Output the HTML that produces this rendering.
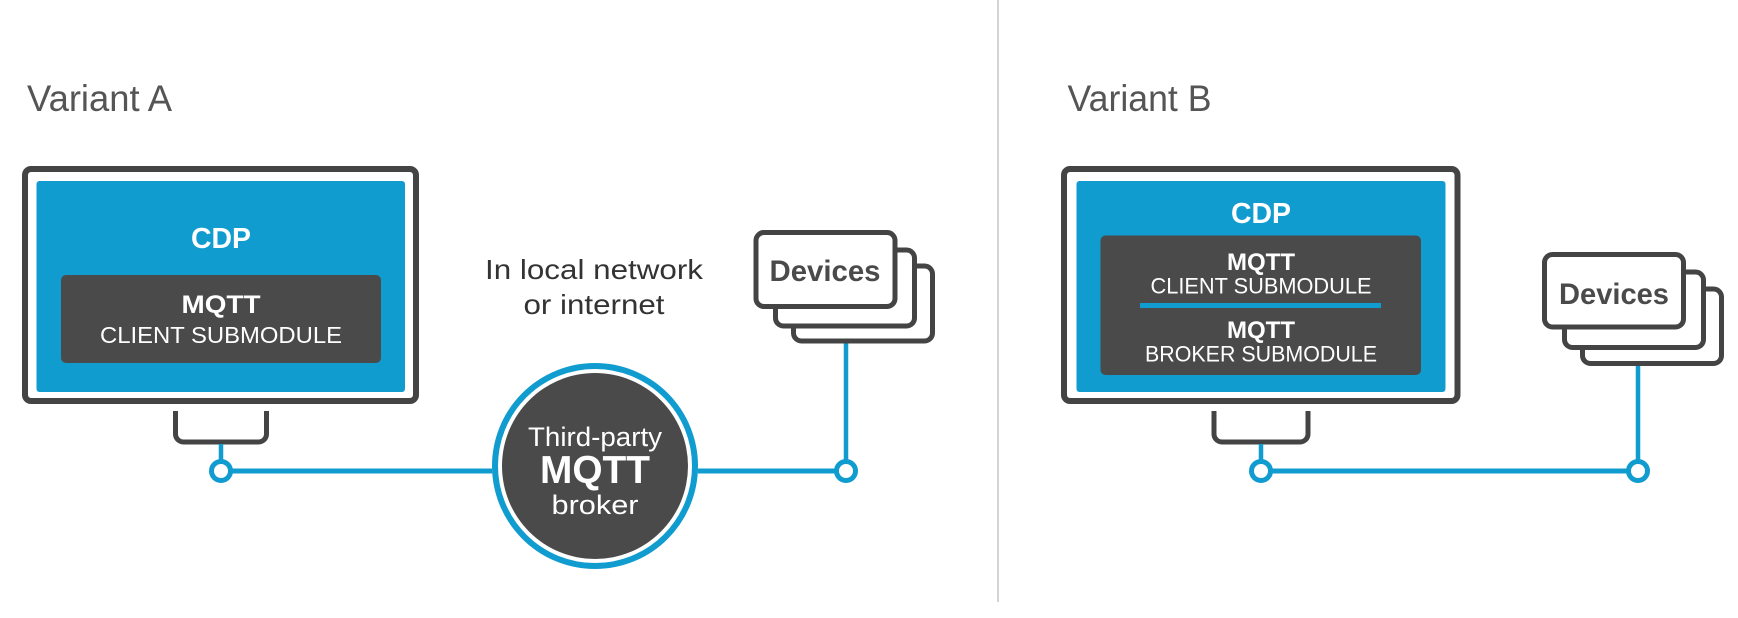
<!DOCTYPE html>
<html><head><meta charset="utf-8"><style>
html,body{margin:0;padding:0;background:#fff;}
svg{display:block;}
text{font-family:"Liberation Sans",sans-serif;}
</style></head><body>
<svg width="1738" height="618" viewBox="0 0 1738 618" xmlns="http://www.w3.org/2000/svg">
<line x1="998" y1="0" x2="998" y2="602" stroke="#d4d4d4" stroke-width="2"/>

<!-- Variant A -->
<text x="27" y="111" font-size="37" fill="#555" font-weight="300" textLength="145" lengthAdjust="spacingAndGlyphs">Variant A</text>
<rect x="25" y="169" width="391" height="232" rx="6" fill="#fff" stroke="#444" stroke-width="6"/>
<rect x="36.5" y="181" width="368.5" height="211" rx="3" fill="#119cd0"/>
<text x="221" y="248" font-size="29" font-weight="bold" fill="#fff" text-anchor="middle" textLength="60" lengthAdjust="spacingAndGlyphs">CDP</text>
<rect x="61" y="275" width="320" height="88" rx="5" fill="#4a4a4a"/>
<text x="221" y="313" font-size="25" font-weight="bold" fill="#fff" text-anchor="middle" textLength="79" lengthAdjust="spacingAndGlyphs">MQTT</text>
<text x="221" y="343" font-size="23" fill="#fff" text-anchor="middle" textLength="242" lengthAdjust="spacingAndGlyphs">CLIENT SUBMODULE</text>
<path d="M175.5 411 V434 a8 8 0 0 0 8 8 H258.5 a8 8 0 0 0 8 -8 V411" fill="none" stroke="#444" stroke-width="5"/>

<line x1="221" y1="444" x2="221" y2="471" stroke="#119cd0" stroke-width="4.5"/>
<line x1="221" y1="471" x2="846" y2="471" stroke="#119cd0" stroke-width="5"/>
<line x1="846" y1="343" x2="846" y2="471" stroke="#119cd0" stroke-width="4.5"/>
<circle cx="221" cy="471" r="9.5" fill="#fff" stroke="#119cd0" stroke-width="5"/>
<circle cx="846" cy="471" r="9.5" fill="#fff" stroke="#119cd0" stroke-width="5"/>

<circle cx="595" cy="466" r="103" fill="#fff"/>
<circle cx="595" cy="466" r="100" fill="#fff" stroke="#119cd0" stroke-width="6"/>
<circle cx="595" cy="466" r="93" fill="#4a4a4a"/>
<text x="595" y="446" font-size="27" font-weight="300" fill="#fff" text-anchor="middle" textLength="134" lengthAdjust="spacingAndGlyphs">Third-party</text>
<text x="595" y="483" font-size="39" font-weight="bold" fill="#fff" text-anchor="middle" textLength="110" lengthAdjust="spacingAndGlyphs">MQTT</text>
<text x="595" y="514" font-size="27" fill="#fff" text-anchor="middle" textLength="87" lengthAdjust="spacingAndGlyphs">broker</text>

<text x="594" y="279" font-size="28" fill="#333" text-anchor="middle" textLength="218" lengthAdjust="spacingAndGlyphs">In local network</text>
<text x="594" y="314" font-size="28" fill="#333" text-anchor="middle" textLength="141" lengthAdjust="spacingAndGlyphs">or internet</text>

<rect x="793.5" y="266" width="139" height="75" rx="8" fill="#fff" stroke="#444" stroke-width="5"/>
<rect x="775.5" y="250" width="139" height="76" rx="8" fill="#fff" stroke="#444" stroke-width="5"/>
<rect x="756" y="232.5" width="139" height="74" rx="8" fill="#fff" stroke="#444" stroke-width="5"/>
<text x="825" y="281" font-size="30" font-weight="bold" fill="#4a4a4a" text-anchor="middle" textLength="111" lengthAdjust="spacingAndGlyphs">Devices</text>

<!-- Variant B -->
<text x="1067.5" y="111" font-size="37" fill="#555" font-weight="300" textLength="144" lengthAdjust="spacingAndGlyphs">Variant B</text>
<rect x="1064" y="169" width="393.5" height="232" rx="6" fill="#fff" stroke="#444" stroke-width="6"/>
<rect x="1076.5" y="181" width="369" height="211" rx="3" fill="#119cd0"/>
<text x="1261" y="223" font-size="29" font-weight="bold" fill="#fff" text-anchor="middle" textLength="60" lengthAdjust="spacingAndGlyphs">CDP</text>
<rect x="1100.5" y="235.5" width="320.5" height="139.5" rx="5" fill="#4a4a4a"/>
<text x="1261" y="270" font-size="24" font-weight="bold" fill="#fff" text-anchor="middle" textLength="68" lengthAdjust="spacingAndGlyphs">MQTT</text>
<text x="1261" y="293.5" font-size="22" fill="#fff" text-anchor="middle" textLength="221" lengthAdjust="spacingAndGlyphs">CLIENT SUBMODULE</text>
<line x1="1140" y1="305.5" x2="1381" y2="305.5" stroke="#119cd0" stroke-width="5"/>
<text x="1261" y="338" font-size="24" font-weight="bold" fill="#fff" text-anchor="middle" textLength="68" lengthAdjust="spacingAndGlyphs">MQTT</text>
<text x="1261" y="361.5" font-size="22" fill="#fff" text-anchor="middle" textLength="232" lengthAdjust="spacingAndGlyphs">BROKER SUBMODULE</text>
<path d="M1214 411 V434 a8 8 0 0 0 8 8 H1300 a8 8 0 0 0 8 -8 V411" fill="none" stroke="#444" stroke-width="5"/>

<line x1="1261" y1="444" x2="1261" y2="471" stroke="#119cd0" stroke-width="4.5"/>
<line x1="1261" y1="471" x2="1638" y2="471" stroke="#119cd0" stroke-width="5"/>
<line x1="1638" y1="366" x2="1638" y2="471" stroke="#119cd0" stroke-width="4.5"/>
<circle cx="1261" cy="471" r="9.5" fill="#fff" stroke="#119cd0" stroke-width="5"/>
<circle cx="1638" cy="471" r="9.5" fill="#fff" stroke="#119cd0" stroke-width="5"/>

<rect x="1582.5" y="289" width="139" height="74.5" rx="8" fill="#fff" stroke="#444" stroke-width="5"/>
<rect x="1564.5" y="272" width="139" height="75.5" rx="8" fill="#fff" stroke="#444" stroke-width="5"/>
<rect x="1544.5" y="254.5" width="139" height="72.5" rx="8" fill="#fff" stroke="#444" stroke-width="5"/>
<text x="1614" y="304" font-size="30" font-weight="bold" fill="#4a4a4a" text-anchor="middle" textLength="110" lengthAdjust="spacingAndGlyphs">Devices</text>
</svg>
</body></html>
